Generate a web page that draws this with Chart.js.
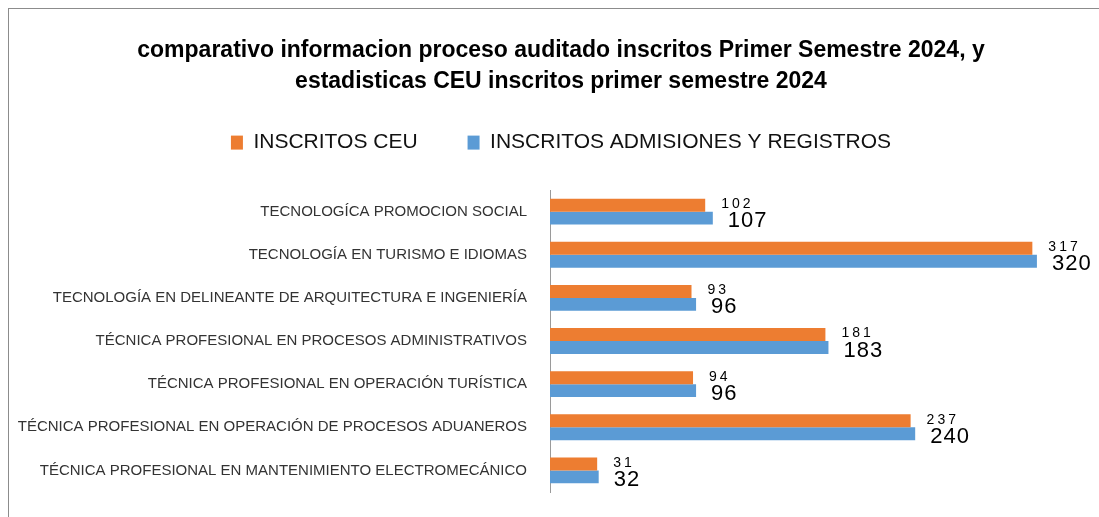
<!DOCTYPE html>
<html>
<head>
<meta charset="utf-8">
<script src="https://cdn.jsdelivr.net/npm/chart.js@4.4.1/dist/chart.umd.min.js"></script>
<style>
  html, body { margin: 0; padding: 0; background: #fff; overflow: hidden; }
  .frame {
    position: absolute; left: 8px; top: 8px;
    width: 1104px; height: 515px;
    border-left: 1px solid #8c8c8c; border-top: 1px solid #8c8c8c;
  }
</style>
</head>
<body>
<div class="frame"><canvas id="myChart" width="1104" height="515"></canvas></div>
<script>
// chart data
const categories = [
  "TECNOLOGÍCA PROMOCION SOCIAL",
  "TECNOLOGÍA EN TURISMO E IDIOMAS",
  "TECNOLOGÍA EN DELINEANTE DE ARQUITECTURA E INGENIERÍA",
  "TÉCNICA PROFESIONAL EN PROCESOS ADMINISTRATIVOS",
  "TÉCNICA PROFESIONAL EN OPERACIÓN TURÍSTICA",
  "TÉCNICA PROFESIONAL EN OPERACIÓN DE PROCESOS ADUANEROS",
  "TÉCNICA PROFESIONAL EN MANTENIMIENTO ELECTROMECÁNICO"
];
const inscritosCeu = [102, 317, 93, 181, 94, 237, 31];
const inscritosAdmisiones = [107, 320, 96, 183, 96, 240, 32];
const seriesNames = ["INSCRITOS CEU", "INSCRITOS ADMISIONES Y REGISTROS"];
const titleLines = [
  "comparativo informacion proceso auditado inscritos Primer Semestre 2024, y",
  "estadisticas CEU inscritos primer semestre 2024"
];

const FONT = "'Liberation Sans', Arial, sans-serif";

// draws the value next to each bar (the small orange label and the bigger blue one)
const barValues = {
  id: "barValues",
  afterDatasetsDraw(chart) {
    const ctx = chart.ctx;
    ctx.save();
    ctx.fillStyle = "#000";
    ctx.textBaseline = "middle";
    ctx.textAlign = "left";
    chart.data.datasets.forEach((ds, i) => {
      const meta = chart.getDatasetMeta(i);
      meta.data.forEach((bar, j) => {
        if (i === 0) {
          ctx.font = "14px " + FONT;
          ctx.letterSpacing = "3px";
          ctx.fillText(ds.data[j], bar.x + 16, bar.y - 1);
        } else {
          ctx.font = "22px " + FONT;
          ctx.letterSpacing = "1px";
          ctx.fillText(ds.data[j], bar.x + 15, bar.y + 3);
        }
      });
    });
    ctx.restore();
  }
};

// a bit more room under the legend
const legendGap = {
  id: "legendGap",
  beforeInit(chart) {
    const fit = chart.legend.fit;
    chart.legend.fit = function () {
      fit.bind(chart.legend)();
      this.height += 27;
    };
  }
};

const ctx = document.getElementById("myChart").getContext("2d");

new Chart(ctx, {
  type: "bar",
  data: {
    labels: categories,
    datasets: [
      {
        label: seriesNames[0],
        data: inscritosCeu,
        backgroundColor: "#ED7D31",
        barPercentage: 1,
        categoryPercentage: 0.6
      },
      {
        label: seriesNames[1],
        data: inscritosAdmisiones,
        backgroundColor: "#5B9BD5",
        barPercentage: 1,
        categoryPercentage: 0.6
      }
    ]
  },
  options: {
    indexAxis: "y",
    responsive: false,
    animation: false,
    layout: { padding: { left: 0, right: 0, top: 0, bottom: 14 } },
    scales: {
      x: { display: false, min: 0, max: 370 },
      y: {
        grid: { display: false, drawTicks: false },
        border: { display: true, color: "#9a9a9a", width: 1 },
        ticks: {
          padding: 23,
          color: "#333",
          font: { family: FONT, size: 15 }
        },
        afterFit(scale) { scale.width = 541; }
      }
    },
    plugins: {
      title: {
        display: true,
        text: titleLines,
        color: "#000",
        font: { family: FONT, size: 23, weight: "bold", lineHeight: 1.35 },
        padding: { top: 26, bottom: -15 }
      },
      legend: {
        display: true,
        labels: {
          color: "#111",
          boxWidth: 12,
          boxHeight: 14,
          padding: 50,
          font: { family: FONT, size: 21 }
        }
      },
      tooltip: { enabled: false }
    }
  },
  plugins: [barValues, legendGap]
});
</script>
</body>
</html>
